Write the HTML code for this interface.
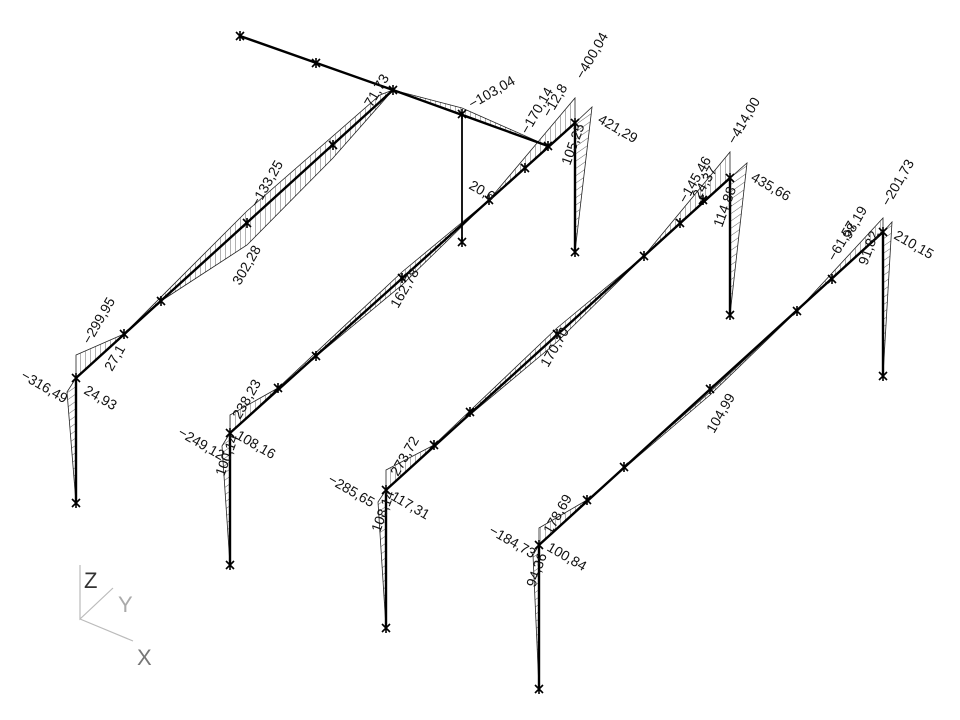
<!DOCTYPE html>
<html><head><meta charset="utf-8"><style>
html,body{margin:0;padding:0;background:#fff}
svg{display:block}
text{font-family:"Liberation Sans",sans-serif;font-size:14px;fill:#111}
</style></head><body>
<svg width="960" height="720" viewBox="0 0 960 720" xmlns="http://www.w3.org/2000/svg">
<defs>
<pattern id="hv" width="5" height="5" patternUnits="userSpaceOnUse"><line x1="0" y1="0" x2="0" y2="5" stroke="#222" stroke-width="0.7"/></pattern>
<pattern id="hd" width="6" height="6" patternUnits="userSpaceOnUse" patternTransform="rotate(-35)"><line x1="0" y1="0" x2="6" y2="0" stroke="#222" stroke-width="0.7"/></pattern>
<g id="st"><path d="M-4,-4L4,4M-4,4L4,-4M0,-5V5" stroke="#000" stroke-width="1.6"/></g>
</defs>
<g fill="url(#hv)" stroke="#222" stroke-width="0.8">
<polygon points="76,378 76,355 124,334"/>
<polygon points="124,334 247,211 380,95 393,90 333,158 247,245 161,301"/>
<polygon points="76,378 67,392 76,503" fill="url(#hd)"/>
<polygon points="240,36 393,90 462,108 548,146 462,114 393,90"/>
<polygon points="230,433 230,415 278,388"/>
<polygon points="230,433 222,446 230,565" fill="url(#hd)"/>
<polygon points="278,388 402,272 489,200 402,285"/>
<polygon points="489,200 575,98 575,123"/>
<polygon points="575,123 592,107 575,252" fill="url(#hd)"/>
<polygon points="386,490 386,470 434,445"/>
<polygon points="386,490 378,502 386,628" fill="url(#hd)"/>
<polygon points="434,445 557,328 644,256 557,342"/>
<polygon points="644,256 730,152 730,178"/>
<polygon points="730,178 747,163 730,315" fill="url(#hd)"/>
<polygon points="539,545 539,528 587,500"/>
<polygon points="539,545 533,555 539,689" fill="url(#hd)"/>
<polygon points="587,500 710,392 797,311 710,395"/>
<polygon points="797,311 883,218 883,232"/>
<polygon points="883,232 892,222 883,376" fill="url(#hd)"/>
</g>
<g stroke="#000" stroke-width="2.4" fill="none">
<path d="M76,378V503M76,378L393,90"/>
<path d="M240,36L393,90L548,146"/>
<path d="M462,114V242" stroke-width="1.8"/>
<path d="M230,433V565M230,433L575,123V252"/>
<path d="M386,490V628M386,490L730,178V315"/>
<path d="M539,545V689M539,545L883,232V376"/>
</g>
<g>
<use href="#st" x="240" y="36"/><use href="#st" x="316" y="63"/><use href="#st" x="393" y="90"/><use href="#st" x="462" y="114"/><use href="#st" x="462" y="242"/><use href="#st" x="548" y="146"/>
<use href="#st" x="76" y="378"/><use href="#st" x="76" y="503"/><use href="#st" x="124" y="334"/><use href="#st" x="161" y="301"/><use href="#st" x="247" y="223"/><use href="#st" x="333" y="145"/>
<use href="#st" x="230" y="433"/><use href="#st" x="230" y="565"/><use href="#st" x="278" y="388"/><use href="#st" x="316" y="356"/><use href="#st" x="402" y="278"/><use href="#st" x="489" y="200"/><use href="#st" x="525" y="168"/><use href="#st" x="575" y="123"/><use href="#st" x="575" y="252"/>
<use href="#st" x="386" y="490"/><use href="#st" x="386" y="628"/><use href="#st" x="434" y="445"/><use href="#st" x="470" y="412"/><use href="#st" x="557" y="334"/><use href="#st" x="644" y="256"/><use href="#st" x="680" y="223"/><use href="#st" x="703" y="200"/><use href="#st" x="730" y="178"/><use href="#st" x="730" y="315"/>
<use href="#st" x="539" y="545"/><use href="#st" x="539" y="689"/><use href="#st" x="587" y="500"/><use href="#st" x="624" y="467"/><use href="#st" x="710" y="389"/><use href="#st" x="797" y="311"/><use href="#st" x="832" y="279"/><use href="#st" x="883" y="232"/><use href="#st" x="883" y="376"/>
</g>
<g stroke="#bbb" stroke-width="1.2" fill="none"><path d="M80,565V619L113,588M80,619L133,641"/></g>
<text x="84" y="588" style="font-size:22px;fill:#333">Z</text>
<text x="118" y="612" style="font-size:22px;fill:#aaa">Y</text>
<text x="137" y="665" style="font-size:22px;fill:#777">X</text>
<g>
<text transform="translate(90,345) rotate(-60)">−299,95</text>
<text transform="translate(112,372) rotate(-60)">27,1</text>
<text transform="translate(20,378) rotate(30)">−316,49</text>
<text transform="translate(83,393) rotate(30)">24,93</text>
<text transform="translate(258,208) rotate(-60)">−133,25</text>
<text transform="translate(240,286) rotate(-60)">302,28</text>
<text transform="translate(372,108) rotate(-60)">71,73</text>
<text transform="translate(472,109) rotate(-30)">−103,04</text>
<text transform="translate(528,135) rotate(-60)">−170,14</text>
<text transform="translate(550,118) rotate(-60)">−12,8</text>
<text transform="translate(583,80) rotate(-60)">−400,04</text>
<text transform="translate(597,122) rotate(30)">421,29</text>
<text transform="translate(570,166) rotate(-70)">105,25</text>
<text transform="translate(468,188) rotate(30)">20,6</text>
<text transform="translate(398,309) rotate(-60)">162,78</text>
<text transform="translate(240,420) rotate(-60)">238,23</text>
<text transform="translate(177,435) rotate(30)">−249,12</text>
<text transform="translate(224,477) rotate(-70)">100,14</text>
<text transform="translate(235,438) rotate(30)">108,16</text>
<text transform="translate(548,368) rotate(-60)">170,70</text>
<text transform="translate(398,477) rotate(-60)">273,72</text>
<text transform="translate(327,482) rotate(30)">−285,65</text>
<text transform="translate(380,533) rotate(-70)">108,14</text>
<text transform="translate(390,499) rotate(30)">117,31</text>
<text transform="translate(686,204) rotate(-60)">−145,46</text>
<text transform="translate(700,200) rotate(-60)">24,37</text>
<text transform="translate(735,145) rotate(-60)">−414,00</text>
<text transform="translate(750,180) rotate(30)">435,66</text>
<text transform="translate(722,228) rotate(-70)">114,88</text>
<text transform="translate(714,434) rotate(-60)">104,99</text>
<text transform="translate(551,535) rotate(-60)">178,69</text>
<text transform="translate(488,533) rotate(30)">−184,73</text>
<text transform="translate(535,588) rotate(-70)">94,36</text>
<text transform="translate(546,550) rotate(30)">100,84</text>
<text transform="translate(835,262) rotate(-60)">−61,57</text>
<text transform="translate(850,240) rotate(-60)">98,19</text>
<text transform="translate(867,266) rotate(-70)">91,82</text>
<text transform="translate(889,207) rotate(-60)">−201,73</text>
<text transform="translate(893,238) rotate(30)">210,15</text>
</g>
</svg>
</body></html>
